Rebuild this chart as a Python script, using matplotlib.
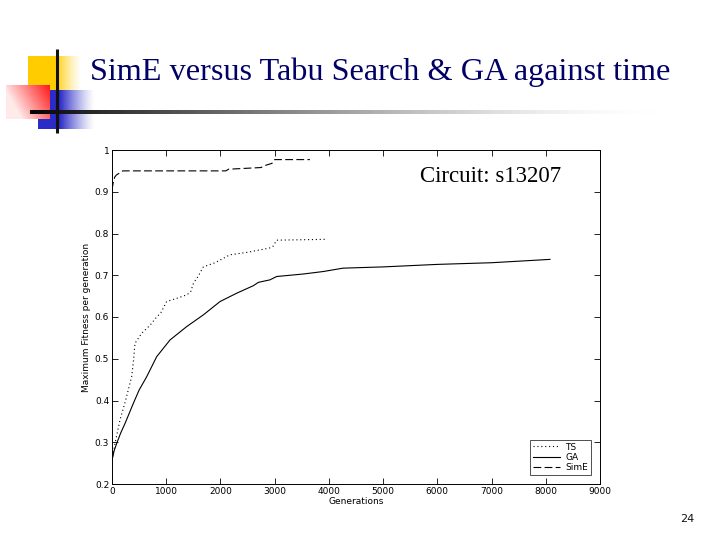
import numpy as np
import matplotlib
matplotlib.use("Agg")
import matplotlib.pyplot as plt

# ---- data ----
sime_gen = [0, 20, 50, 80, 200, 2100, 2150, 2750, 2800, 2950, 3000, 3650]
sime_fit = [0.905, 0.92, 0.935, 0.94, 0.95, 0.95, 0.954, 0.958, 0.962, 0.968, 0.977, 0.977]

ts_gen = [0, 60, 147, 250, 363, 400, 424, 547, 700, 824, 900, 1008, 1200, 1377,
          1450, 1500, 1600, 1684, 1900, 2176, 2500, 2900, 2975, 3037, 3929]
ts_fit = [0.257, 0.30, 0.353, 0.40, 0.457, 0.50, 0.537, 0.561, 0.58, 0.60, 0.61,
          0.637, 0.645, 0.653, 0.66, 0.68, 0.70, 0.72, 0.73, 0.749, 0.755, 0.765,
          0.77, 0.784, 0.786]

ga_gen = [0, 40, 86, 160, 240, 393, 500, 640, 824, 1070, 1377, 1684, 1992, 2300, 2607,
          2700, 2914, 3037, 3529, 3900, 4260, 5000, 6000, 7000, 8078]
ga_fit = [0.257, 0.28, 0.297, 0.322, 0.345, 0.393, 0.425, 0.457, 0.505, 0.545, 0.577, 0.605,
          0.637, 0.657, 0.675, 0.683, 0.689, 0.697, 0.703, 0.709, 0.717, 0.720,
          0.726, 0.730, 0.738]

x_ticks = [0, 1000, 2000, 3000, 4000, 5000, 6000, 7000, 8000, 9000]
y_ticks = [0.2, 0.3, 0.4, 0.5, 0.6, 0.7, 0.8, 0.9, 1.0]
y_labels = ["0.2", "0.3", "0.4", "0.5", "0.6", "0.7", "0.8", "0.9", "1"]

fig = plt.figure(figsize=(7.2, 5.4), dpi=100)

# ---- slide decorations ----
deco = fig.add_axes([0, 0, 1, 1], zorder=-1)
deco.set_axis_off()

def hgrad(color, solid_frac, a0=1.0):
    n = 100
    rgba = np.zeros((1, n, 4))
    rgba[..., :3] = matplotlib.colors.to_rgb(color)
    t = np.linspace(0, 1, n)
    alpha = np.where(t < solid_frac, a0, a0 * (1 - (t - solid_frac) / (1 - solid_frac)) ** 1.3)
    rgba[0, :, 3] = alpha
    return rgba

deco.imshow(hgrad("#FFCC00", 0.5), extent=[28, 82, 90, 56], aspect="auto", interpolation="bilinear")
deco.imshow(hgrad("#2B2BC8", 0.38), extent=[38, 95, 129, 90], aspect="auto", interpolation="bilinear")
# red square: gradient light at left/bottom, red at top-right
nx, ny = 60, 40
red = np.zeros((ny, nx, 4))
red[..., 0] = 1.0
xx = np.linspace(0, 1, nx)[None, :]
yy = np.linspace(0, 1, ny)[:, None]
gb = np.clip(0.9 - 0.8 * xx + 0.35 * yy, 0.05, 0.97)
red[..., 1] = gb * 0.95
red[..., 2] = gb * 0.95
red[..., 3] = 1.0
deco.imshow(red, extent=[6, 50, 119, 85], aspect="auto", interpolation="bilinear")
# horizontal fading line
nl = 200
line = np.zeros((1, nl, 4))
tl = np.linspace(0, 1, nl)
line[0, :, :3] = (tl ** 0.8)[:, None] * 0.97
line[0, :, 3] = 1 - tl ** 2.5
deco.imshow(line, extent=[30, 660, 113.6, 110.4], aspect="auto", interpolation="bilinear")
deco.plot([57, 57], [49, 133], color="#111111", lw=2.2, solid_capstyle="butt")
deco.set_xlim(0, 720)
deco.set_ylim(540, 0)

fig.text(90 / 720, 1 - 80 / 540, "SimE versus Tabu Search & GA against time",
         family="Liberation Serif", fontsize=23.2, color="#000066", ha="left", va="baseline")
fig.text(687 / 720, 1 - 522 / 540, "24", family="DejaVu Sans", fontsize=8,
         ha="center", va="baseline", color="#111111")

# ---- chart ----
ax = fig.add_axes([112 / 720, 56 / 540, 488 / 720, 334 / 540])
ax.plot(ts_gen, ts_fit, color="black", lw=0.8, linestyle=(0, (1, 2.5)), label="TS")
ax.plot(ga_gen, ga_fit, color="black", lw=0.8, linestyle="-", label="GA")
ax.plot(sime_gen, sime_fit, color="black", lw=0.8, linestyle=(0, (7, 3)), label="SimE")

ax.set_xlim(0, 9000)
ax.set_ylim(0.2, 1.0)
ax.set_xticks(x_ticks)
ax.set_xticklabels([str(v) for v in x_ticks])
ax.set_yticks(y_ticks)
ax.set_yticklabels(y_labels)
ax.tick_params(direction="in", length=4, width=0.6, top=True, right=True,
               labelsize=6.5, pad=2)
for s in ax.spines.values():
    s.set_linewidth(0.7)
ax.set_xlabel("Generations", fontsize=6.5, labelpad=1)
ax.set_ylabel("Maximum Fitness per generation", fontsize=6.5, labelpad=3)

leg = ax.legend(loc="lower right", fontsize=6.5, frameon=True, fancybox=False,
                edgecolor="black", handlelength=3, borderpad=0.3, labelspacing=0.15,
                handletextpad=0.6, borderaxespad=1.0)
leg.get_frame().set_linewidth(0.6)

ax.text(0.92, 0.905, "Circuit: s13207", transform=ax.transAxes, family="Liberation Serif",
        fontsize=16.5, ha="right", va="baseline")

fig.savefig("out.png", dpi=100)
